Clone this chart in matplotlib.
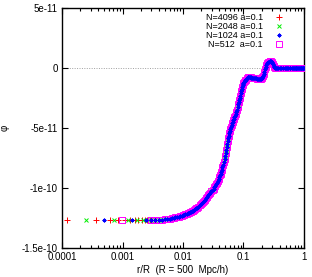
import matplotlib
matplotlib.use("Agg")
import matplotlib.pyplot as plt
from matplotlib.ticker import LogLocator, NullFormatter

plt.rcParams["font.family"] = ["Liberation Sans", "DejaVu Sans"]

# -------------------------------------------------------------
# Data (phi in units of 1e-11)
# -------------------------------------------------------------
# flat inner part, grid points of each run
r_4096 = [0.000122, 0.000366, 0.00061, 0.000854, 0.0011, 0.00134,
          0.00159, 0.00183, 0.00208, 0.00232, 0.00256, 0.00281]
phi_4096 = [-12.68] * 12
r_2048 = [0.000244, 0.000732, 0.00122, 0.00171, 0.0022, 0.00269]
phi_2048 = [-12.68] * 6
r_1024 = [0.000488, 0.00146, 0.00244]
phi_1024 = [-12.68] * 3
r_512 = [0.000977, 0.00293]
phi_512 = [-12.68] * 2

# common profile, where all runs overlap
r_curve = [0.003, 0.0035, 0.004, 0.0045, 0.005, 0.0055, 0.006, 0.0065,
           0.007, 0.0075, 0.008, 0.0085, 0.009, 0.0095, 0.01, 0.0105,
           0.011, 0.0115, 0.012, 0.0125, 0.013, 0.0135, 0.014, 0.0145,
           0.015, 0.0158, 0.0165, 0.0172, 0.018, 0.019, 0.0198, 0.0205,
           0.0212, 0.022, 0.023, 0.024, 0.025, 0.026, 0.027, 0.028, 0.0295,
           0.031, 0.032, 0.033, 0.034, 0.035, 0.036, 0.0375, 0.039, 0.04,
           0.041, 0.042, 0.043, 0.044, 0.045, 0.0465, 0.048, 0.049, 0.05,
           0.051, 0.052, 0.053, 0.054, 0.055, 0.056, 0.057, 0.0585, 0.06,
           0.061, 0.0625, 0.064, 0.065, 0.066, 0.0675, 0.069, 0.07, 0.072,
           0.074, 0.076, 0.078, 0.08, 0.082, 0.0835, 0.085, 0.0865, 0.088,
           0.09, 0.092, 0.0935, 0.095, 0.0965, 0.098, 0.1, 0.102, 0.105,
           0.108, 0.11, 0.114, 0.117, 0.12, 0.124, 0.128, 0.131, 0.135,
           0.14, 0.144, 0.148, 0.155, 0.162, 0.17, 0.175, 0.18, 0.187,
           0.195, 0.2, 0.205, 0.21, 0.215, 0.22, 0.226, 0.233, 0.24, 0.247,
           0.254, 0.262, 0.27, 0.278, 0.285, 0.293, 0.3, 0.308, 0.316,
           0.325, 0.335, 0.345, 0.36, 0.38, 0.4, 0.42, 0.45, 0.48, 0.5,
           0.53, 0.55, 0.58, 0.6, 0.63, 0.65, 0.68, 0.7, 0.73, 0.75, 0.78,
           0.8, 0.83, 0.85, 0.88, 0.9, 0.93, 0.95, 0.98, 1.0]
phi_curve = [-12.67, -12.66, -12.65, -12.63, -12.6, -12.58, -12.55, -12.53,
             -12.5, -12.46, -12.42, -12.38, -12.34, -12.3, -12.25, -12.22,
             -12.18, -12.14, -12.1, -12.06, -12.02, -11.98, -11.95, -11.9,
             -11.86, -11.78, -11.7, -11.63, -11.55, -11.42, -11.33, -11.27,
             -11.18, -11.1, -10.98, -10.85, -10.72, -10.6, -10.5, -10.4, -10.28,
             -10.17, -10.06, -9.95, -9.82, -9.7, -9.58, -9.4, -9.22, -9.1,
             -8.95, -8.8, -8.65, -8.5, -8.28, -8.05, -7.8, -7.6, -7.35,
             -7.1, -6.85, -6.6, -6.3, -6.05, -5.85, -5.65, -5.4, -5.2,
             -5.05, -4.9, -4.72, -4.6, -4.48, -4.35, -4.2, -4.1, -3.95,
             -3.8, -3.65, -3.5, -3.25, -3.0, -2.82, -2.65, -2.48, -2.3,
             -2.1, -1.9, -1.72, -1.55, -1.42, -1.3, -1.22, -1.15, -1.08,
             -1.0, -0.95, -0.83, -0.77, -0.72, -0.72, -0.75, -0.77, -0.78,
             -0.8, -0.81, -0.82, -0.83, -0.85, -0.88, -0.89, -0.9, -0.92,
             -0.88, -0.8, -0.75, -0.67, -0.5, -0.3, -0.08, 0.1, 0.3, 0.42,
             0.5, 0.55, 0.58, 0.59, 0.58, 0.52, 0.45, 0.33, 0.22,
             0.12, 0.05, 0.0, 0.0, 0.0, 0.0, 0.0, 0.0, 0.0, 0.0,
             0.0, 0.0, 0.0, 0.0, 0.0, 0.0, 0.0, 0.0, 0.0, 0.0, 0.0,
             0.0, 0.0, 0.0, 0.0, 0.0, 0.0, 0.0, 0.0, 0.0]

labels = ["N=4096 a=0.1", "N=2048 a=0.1", "N=1024 a=0.1", "N=512  a=0.1"]

y_ticks = [5e-11, 0, -5e-11, -1e-10, -1.5e-10]
y_ticklabels = ["5e-11", "0", "-5e-11", "-1e-10", "-1.5e-10"]
x_ticks = [0.0001, 0.001, 0.01, 0.1, 1]
x_ticklabels = ["0.0001", "0.001", "0.01", "0.1", "1"]

# -------------------------------------------------------------
# Figure
# -------------------------------------------------------------
fig = plt.figure(figsize=(3.12, 2.77), dpi=100)
ax = fig.add_axes([0.199, 0.105, 0.775, 0.865])

ax.axhline(0, color="#a0a0a0", lw=0.7, ls=(0, (1, 1.5)), zorder=1)

# (r, phi, marker, colour, zorder, style)
series = [
    (r_4096, phi_4096, "+", "#ff0000", 3, dict(markersize=4, mew=0.7)),
    (r_2048, phi_2048, "x", "#00ee00", 3.1, dict(markersize=3.5, mew=0.7)),
    (r_1024, phi_1024, (8, 2, 0), "#0000ff", 3.3,
     dict(markersize=2.8, mew=0.6)),
    (r_512, phi_512, "s", "#ff00ff", 3.2,
     dict(markersize=3.9, mew=0.7, markerfacecolor="none")),
]
for (r, phi, m, c, z, kw), lab in zip(series, labels):
    rr = r + r_curve
    pp = [p * 1e-11 for p in phi + phi_curve]
    ax.plot(rr, pp, ls="none", marker=m, color=c, label=lab, zorder=z, **kw)

ax.set_xscale("log")
ax.set_xlim(0.0001, 1)
ax.set_ylim(-1.5e-10, 5e-11)

ax.set_xticks(x_ticks)
ax.set_xticklabels(x_ticklabels)
ax.xaxis.set_minor_locator(LogLocator(base=10, subs=range(2, 10)))
ax.xaxis.set_minor_formatter(NullFormatter())
ax.set_yticks(y_ticks)
ax.set_yticklabels(y_ticklabels)

ax.tick_params(which="both", direction="in", top=True, right=True,
               labelsize=7, width=0.8, pad=3)
ax.tick_params(which="major", length=4)
ax.tick_params(which="minor", length=2)
for s in ax.spines.values():
    s.set_linewidth(1.0)

ax.set_xlabel("r/R  (R = 500  Mpc/h)", fontsize=7, labelpad=2)
ax.set_ylabel("φ", fontsize=7, rotation=90)
ax.yaxis.set_label_coords(-0.215, 0.5)

leg = ax.legend(loc="upper right", frameon=False, markerfirst=False,
                fontsize=6.5, handlelength=1.0, handletextpad=1.3,
                labelspacing=0.0, borderaxespad=0.1,
                bbox_to_anchor=(0.935, 1.0))
for t in leg.get_texts():
    t.set_ha("right")

fig.savefig("out.png", dpi=100)
